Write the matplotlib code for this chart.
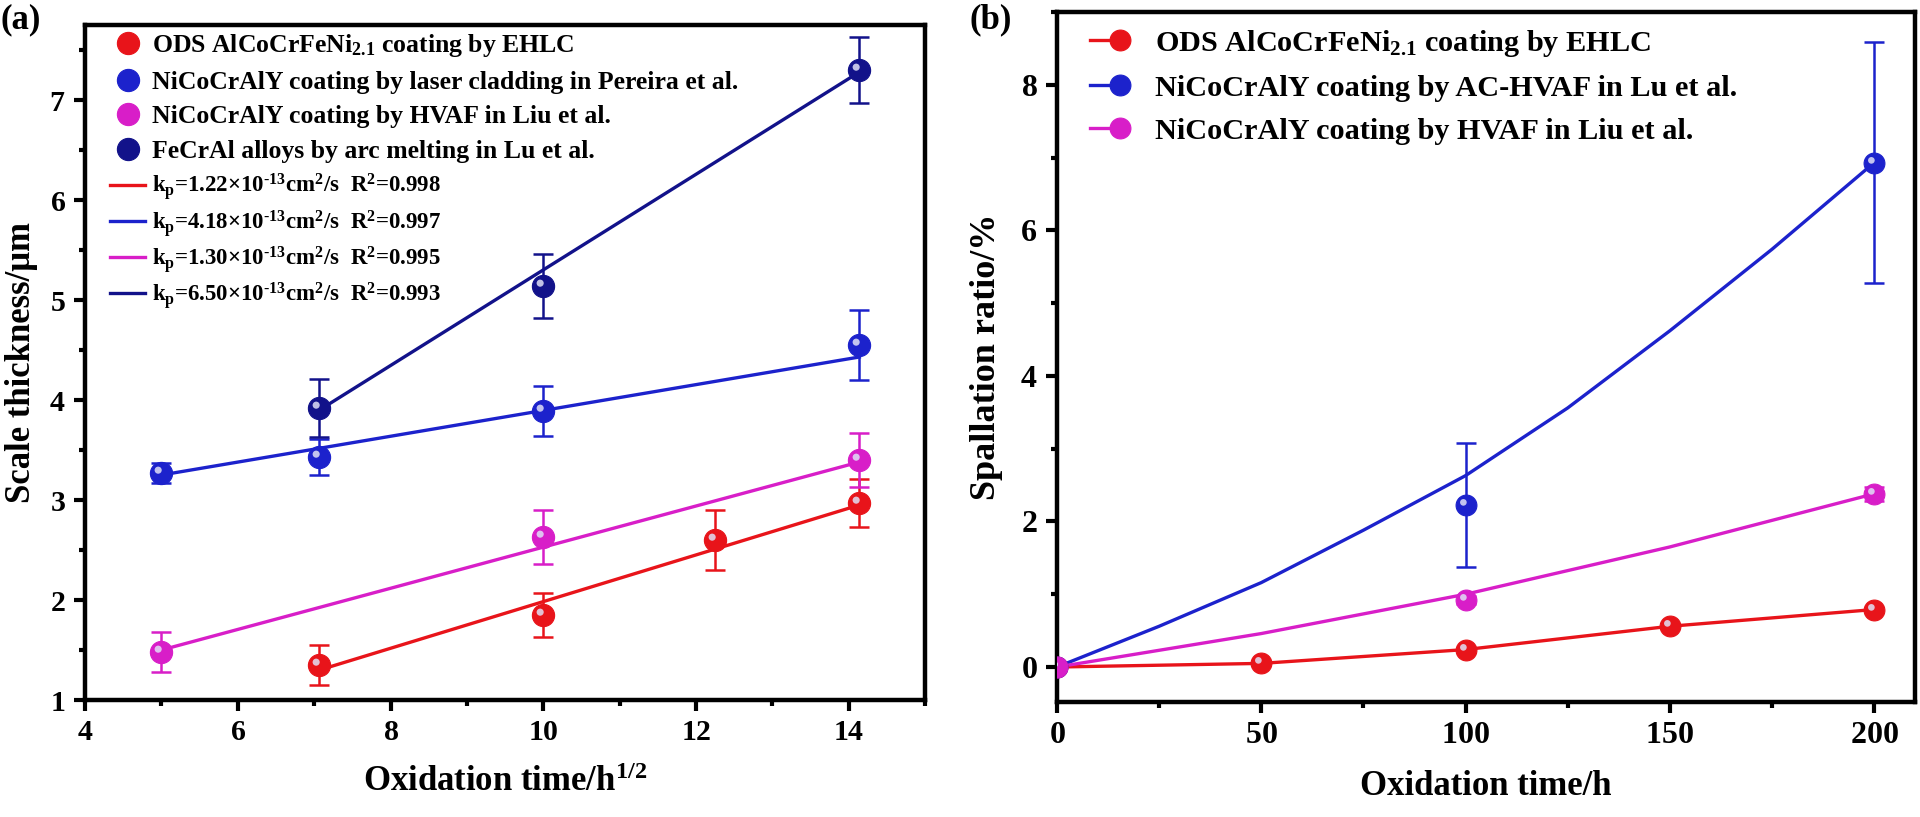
import matplotlib
matplotlib.use("Agg")
import matplotlib.pyplot as plt
import numpy as np
from matplotlib.lines import Line2D
from matplotlib.path import Path
from matplotlib.ticker import MultipleLocator, FuncFormatter
from matplotlib.legend_handler import HandlerTuple, HandlerLine2D

plt.rcParams["font.family"] = ["Liberation Serif", "DejaVu Serif"]
plt.rcParams["font.weight"] = "bold"
plt.rcParams["axes.labelweight"] = "bold"
plt.rcParams["mathtext.fontset"] = "custom"
plt.rcParams["mathtext.rm"] = "Liberation Serif:bold"
plt.rcParams["mathtext.it"] = "Liberation Serif:bold"
plt.rcParams["mathtext.bf"] = "Liberation Serif:bold"
plt.rcParams["axes.unicode_minus"] = False

RED = "#e8141a"
BLUE = "#1c22cc"
PINK = "#d81ec8"
NAVY = "#12128a"

# ---- panel (a): scale thickness vs sqrt(time)
ods_x = [7.07, 10.0, 12.25, 14.14]
ods_y = [1.35, 1.85, 2.60, 2.97]
ods_err = [0.20, 0.22, 0.30, 0.24]
ods_fit_x = [7.07, 14.14]
ods_fit_y = [1.30, 2.95]

pereira_x = [5.0, 7.07, 10.0, 14.14]
pereira_y = [3.27, 3.43, 3.89, 4.55]
pereira_err = [0.10, 0.18, 0.25, 0.35]
pereira_fit_x = [5.0, 14.14]
pereira_fit_y = [3.25, 4.43]

liu_x = [5.0, 10.0, 14.14]
liu_y = [1.48, 2.63, 3.40]
liu_err = [0.20, 0.27, 0.27]
liu_fit_x = [5.0, 14.14]
liu_fit_y = [1.50, 3.38]

fecral_x = [7.07, 10.0, 14.14]
fecral_y = [3.92, 5.14, 7.30]
fecral_err = [0.29, 0.32, 0.33]
fecral_fit_x = [7.07, 14.14]
fecral_fit_y = [3.90, 7.28]

kp_labels = [
    r"k$_\mathrm{p}$=1.22×10$^{\text{-}13}$cm$^2$/s  R$^2$=0.998",
    r"k$_\mathrm{p}$=4.18×10$^{\text{-}13}$cm$^2$/s  R$^2$=0.997",
    r"k$_\mathrm{p}$=1.30×10$^{\text{-}13}$cm$^2$/s  R$^2$=0.995",
    r"k$_\mathrm{p}$=6.50×10$^{\text{-}13}$cm$^2$/s  R$^2$=0.993",
]
left_names = [
    r"ODS AlCoCrFeNi$_{2.1}$ coating by EHLC",
    "NiCoCrAlY coating by laser cladding in Pereira et al.",
    "NiCoCrAlY coating by HVAF in Liu et al.",
    "FeCrAl alloys by arc melting in Lu et al.",
]

# ---- panel (b): spallation ratio vs time
time_ods = [0, 50, 100, 150, 200]
spall_ods = [0.0, 0.05, 0.24, 0.56, 0.79]

time_lu = [0, 100, 200]
spall_lu = [0.0, 2.23, 6.93]
spall_lu_err = [0.0, 0.85, 1.66]
curve_lu_t = [0, 25, 50, 75, 100, 125, 150, 175, 200]
curve_lu = [0.0, 0.56, 1.16, 1.88, 2.63, 3.56, 4.62, 5.74, 6.93]

time_liu = [0, 100, 200]
spall_liu = [0.0, 0.92, 2.38]
spall_liu_err = [0.0, 0.05, 0.10]
curve_liu_t = [0, 50, 100, 150, 200]
curve_liu = [0.0, 0.46, 1.0, 1.65, 2.38]

right_names = [
    r"ODS AlCoCrFeNi$_{2.1}$ coating by EHLC",
    "NiCoCrAlY coating by AC-HVAF in Lu et al.",
    "NiCoCrAlY coating by HVAF in Liu et al.",
]

# glossy highlight spot drawn on top of the sphere markers
_spot = Path.circle((-0.3, 0.3), 0.32)
_frame = Path([(1, 1), (1, 1), (-1, -1), (-1, -1)],
              [Path.MOVETO, Path.LINETO, Path.MOVETO, Path.LINETO])
HILITE = Path.make_compound_path(_frame, _spot)

MS = 16

# tick labels through mathtext so they pick up the bold serif face
bold_fmt = FuncFormatter(lambda v, pos: f"${v:g}$")


class LeftMarker(HandlerLine2D):
    """marker sits near the left end of the handle, like Origin does"""

    def get_xdata(self, legend, xdescent, ydescent, width, height, fontsize):
        xdata, _ = super().get_xdata(legend, xdescent, ydescent, width, height, fontsize)
        return xdata, np.array([-xdescent + 0.2 * width])


def sphere(ax, x, y, color, ms=MS):
    body, = ax.plot(x, y, "o", ms=ms, color=color, mec=color, mew=0.8, zorder=5)
    ax.plot(x, y, ls="none", marker=HILITE, ms=ms, color="#e0e0f6",
            mew=0, alpha=0.85, zorder=6)
    return body


def style_axes(ax, size):
    for sp in ax.spines.values():
        sp.set_linewidth(3.2)
    ax.tick_params(which="both", direction="out", top=False, right=False,
                   width=3.0, labelsize=size, pad=6)
    ax.tick_params(which="major", length=8)
    ax.tick_params(which="minor", length=4)
    ax.xaxis.set_major_formatter(bold_fmt)
    ax.yaxis.set_major_formatter(bold_fmt)


fig = plt.figure(figsize=(19.2, 8.17), dpi=100)
ax1 = fig.add_axes([0.0443, 0.1432, 0.4375, 0.8262])
ax2 = fig.add_axes([0.5505, 0.1408, 0.4469, 0.8445])

# (a)
series_a = [
    (ods_x, ods_y, ods_err, ods_fit_x, ods_fit_y, RED),
    (pereira_x, pereira_y, pereira_err, pereira_fit_x, pereira_fit_y, BLUE),
    (liu_x, liu_y, liu_err, liu_fit_x, liu_fit_y, PINK),
    (fecral_x, fecral_y, fecral_err, fecral_fit_x, fecral_fit_y, NAVY),
]
marker_handles = []
line_handles = []
for xs, ys, es, fx, fy, col in series_a:
    ax1.errorbar(xs, ys, yerr=es, fmt="none", ecolor=col, elinewidth=1.8,
                 capsize=7, capthick=1.8, zorder=4)
    fit, = ax1.plot(fx, fy, color=col, lw=2.4, zorder=3)
    marker_handles.append(sphere(ax1, xs, ys, col))
    line_handles.append(fit)

ax1.set_xlim(4, 15)
ax1.set_ylim(1, 7.75)
ax1.xaxis.set_major_locator(MultipleLocator(2))
ax1.xaxis.set_minor_locator(MultipleLocator(1))
ax1.yaxis.set_major_locator(MultipleLocator(1))
ax1.yaxis.set_minor_locator(MultipleLocator(0.5))
style_axes(ax1, 21.5)
ax1.set_xlabel(r"Oxidation time/h$^{1/2}$", fontsize=25, fontweight="bold", labelpad=14)
ax1.set_ylabel("Scale thickness/μm", fontsize=25, fontweight="bold", labelpad=8)

leg_names = ax1.legend(marker_handles, left_names,
                       handler_map={Line2D: LeftMarker()},
                       loc="upper left", bbox_to_anchor=(0.03, 0.99), frameon=False,
                       fontsize=18.5, handlelength=1.36, handletextpad=0.27,
                       labelspacing=0.46, borderaxespad=0.0, borderpad=0.0)
ax1.add_artist(leg_names)
ax1.legend(line_handles, kp_labels,
           loc="upper left", bbox_to_anchor=(0.03, 0.783), frameon=False,
           fontsize=16.5, handlelength=1.52, handletextpad=0.3,
           labelspacing=0.22, borderaxespad=0.0, borderpad=0.0)

# (b)
ax2.plot(time_ods, spall_ods, color=RED, lw=2.4, zorder=3)
ax2.plot(curve_lu_t, curve_lu, color=BLUE, lw=2.4, zorder=3)
ax2.plot(curve_liu_t, curve_liu, color=PINK, lw=2.4, zorder=3)
ax2.errorbar(time_lu, spall_lu, yerr=spall_lu_err, fmt="none", ecolor=BLUE,
             elinewidth=1.8, capsize=7, capthick=1.8, zorder=4)
ax2.errorbar(time_liu, spall_liu, yerr=spall_liu_err, fmt="none", ecolor=PINK,
             elinewidth=1.8, capsize=7, capthick=1.8, zorder=4)
right_handles = []
for xs, ys, col in [(time_ods, spall_ods, RED), (time_lu, spall_lu, BLUE),
                    (time_liu, spall_liu, PINK)]:
    body = sphere(ax2, xs, ys, col, ms=15)
    seg = Line2D([], [], color=col, lw=2.4)
    right_handles.append((seg, body))

ax2.set_xlim(0, 210)
ax2.set_ylim(-0.48, 9.0)
ax2.xaxis.set_major_locator(MultipleLocator(50))
ax2.xaxis.set_minor_locator(MultipleLocator(25))
ax2.yaxis.set_major_locator(MultipleLocator(2))
ax2.yaxis.set_minor_locator(MultipleLocator(1))
style_axes(ax2, 23)
ax2.set_xlabel("Oxidation time/h", fontsize=25, fontweight="bold", labelpad=14)
ax2.set_ylabel("Spallation ratio/%", fontsize=26, fontweight="bold", labelpad=12)

ax2.legend(right_handles, right_names,
           handler_map={tuple: HandlerTuple(ndivide=None, pad=0)},
           loc="upper left", bbox_to_anchor=(0.0385, 0.977), frameon=False,
           fontsize=21.8, handlelength=1.33, handletextpad=0.83,
           labelspacing=0.52, borderaxespad=0.0, borderpad=0.0)

fig.text(0.0, 0.976, "(a)", fontsize=25, fontweight="bold", va="center", ha="left")
fig.text(0.505, 0.976, "(b)", fontsize=25, fontweight="bold", va="center", ha="left")

fig.savefig("out.png", dpi=100)
